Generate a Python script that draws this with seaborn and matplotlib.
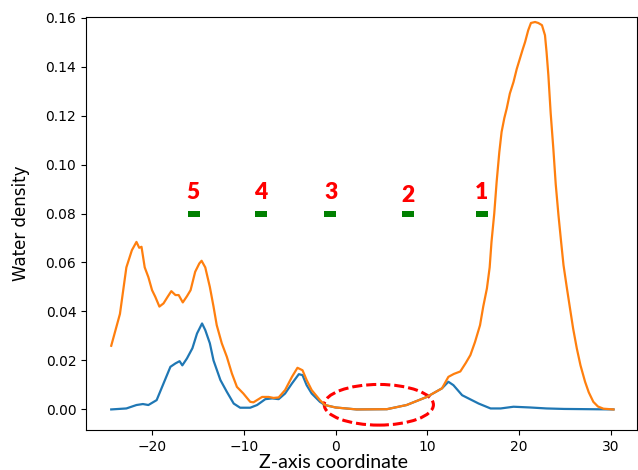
import matplotlib
matplotlib.use("Agg")
import matplotlib.pyplot as plt
from matplotlib.patches import Ellipse
import seaborn as sns

# Orange curve (total water density)
z_orange = [-24.45, -23.5, -22.8, -22.2, -21.7, -21.4, -21.15, -20.8, -20.4, -20.0,
            -19.65, -19.2, -18.75, -18.3, -17.9, -17.45, -17.1, -16.65, -16.2, -15.8,
            -15.3, -14.85, -14.6, -14.2, -13.7, -13.3, -12.95, -12.4, -11.85, -11.3,
            -10.75, -10.05, -9.3, -8.95, -8.0, -7.3, -6.75, -6.2, -5.5, -4.75,
            -4.15, -3.6, -3.15, -2.6, -1.7, -1.15, 0.0, 2.3, 5.6, 7.75,
            9.95, 11.6, 12.3, 12.9, 13.6, 14.2, 14.7, 15.2, 15.75, 16.1,
            16.5, 16.8, 17.0, 17.3, 17.56, 17.85, 18.1, 18.4, 18.66, 19.0,
            19.4, 19.75, 20.1, 20.4, 20.66, 21.0, 21.3, 21.75, 22.1, 22.5,
            22.83, 23.0, 23.2, 23.45, 23.74, 24.0, 24.3, 24.6, 24.85, 25.2,
            25.56, 25.9, 26.3, 26.7, 27.2, 27.6, 28.1, 28.6, 29.2, 30.3]
rho_orange = [0.026, 0.039, 0.058, 0.065, 0.0684, 0.066, 0.0664, 0.058, 0.054, 0.0487,
              0.046, 0.042, 0.0433, 0.046, 0.0483, 0.0467, 0.0467, 0.0437, 0.0462, 0.0487,
              0.0562, 0.0596, 0.0607, 0.058, 0.050, 0.042, 0.0344, 0.027, 0.0215, 0.0147,
              0.0092, 0.0065, 0.0031, 0.0029, 0.0051, 0.0051, 0.0047, 0.0049, 0.0079, 0.0133,
              0.017, 0.016, 0.012, 0.0079, 0.0038, 0.0018, 0.0008, 0.0, 0.0001, 0.0018,
              0.0051, 0.0086, 0.0133, 0.0145, 0.0155, 0.019, 0.0222, 0.0275, 0.0344, 0.042,
              0.0494, 0.058, 0.0684, 0.080, 0.0929, 0.105, 0.1133, 0.119, 0.1229, 0.129,
              0.1337, 0.139, 0.1433, 0.147, 0.150, 0.1548, 0.1578, 0.1582, 0.1578, 0.1569,
              0.1528, 0.146, 0.1364, 0.121, 0.1065, 0.092, 0.0793, 0.068, 0.0589, 0.050,
              0.0412, 0.033, 0.0249, 0.018, 0.0113, 0.007, 0.0031, 0.0012, 0.0003, 0.0]

# Blue curve
z_blue = [-24.45, -22.8, -21.7, -21.0, -20.4, -19.5, -18.75, -18.0, -17.45, -17.0,
          -16.7, -16.2, -15.6, -15.1, -14.55, -14.2, -13.7, -13.3, -12.55, -11.85,
          -11.1, -10.4, -9.3, -8.55, -7.65, -6.9, -6.2, -5.5, -4.75, -4.0,
          -3.6, -3.15, -2.6, -1.7, -1.15, 0.0, 2.3, 5.6, 7.75, 9.95,
          11.6, 12.3, 12.85, 13.8, 14.7, 15.6, 16.9, 18.0, 19.4, 21.2,
          23.0, 24.9, 30.3]
rho_blue = [0.0, 0.0004, 0.0018, 0.0022, 0.0018, 0.0038, 0.0106, 0.0174, 0.0188, 0.0197,
            0.018, 0.0208, 0.025, 0.031, 0.0351, 0.0324, 0.027, 0.020, 0.012, 0.0072,
            0.0024, 0.0007, 0.0007, 0.0018, 0.0042, 0.0045, 0.0042, 0.0065, 0.0106, 0.0144,
            0.014, 0.0099, 0.0065, 0.0031, 0.0018, 0.0008, 0.0, 0.0001, 0.0018, 0.0051,
            0.0086, 0.0113, 0.0099, 0.0058, 0.0041, 0.0024, 0.0004, 0.0004, 0.0011, 0.0008,
            0.0004, 0.0002, 0.0]

# Numbered sites
site_labels = ["5", "4", "3", "2", "1"]
site_z = [-15.45, -8.1, -0.55, 7.9, 16.0]
site_rho = [0.08, 0.08, 0.08, 0.08, 0.08]
label_z = [-15.5, -8.2, -0.5, 7.85, 15.9]
label_rho = [0.0861, 0.0861, 0.0861, 0.0847, 0.0861]

fig = plt.figure(figsize=(6.38, 4.70), dpi=100)
ax = fig.add_axes([0.1348, 0.0851, 0.8632, 0.878])

sns.lineplot(x=z_blue, y=rho_blue, ax=ax, color="C0", estimator=None, linewidth=1.6)
sns.lineplot(x=z_orange, y=rho_orange, ax=ax, color="C1", estimator=None, linewidth=1.6)

rect = [(-0.8, -0.5), (0.8, -0.5), (0.8, 0.5), (-0.8, 0.5)]
ax.plot(site_z, site_rho, ls="none", marker=rect, markersize=8,
        color="green", markeredgewidth=0)
for lab, zx, ry in zip(site_labels, label_z, label_rho):
    ax.text(zx, ry, lab, color="red", fontsize=16.5, fontweight="heavy",
            family="Lato", ha="center", va="baseline")

ax.add_patch(Ellipse((4.72, 0.0019), 11.9, 0.0166, fill=False, ec="red",
                     lw=2.2, ls=(0, (3.3, 1.3))))

ax.set_xlim(-27.2, 32.83)
ax.set_ylim(-0.0084, 0.1601)
ax.set_xticks([-20, -10, 0, 10, 20, 30])
ax.set_yticks([0.0, 0.02, 0.04, 0.06, 0.08, 0.10, 0.12, 0.14, 0.16])
ax.tick_params(labelsize=10)
ax.set_xlabel("Z-axis coordinate", fontsize=14, family="Lato")
ax.set_ylabel("Water density", fontsize=12)
ax.xaxis.set_label_coords(0.45, -0.058)
ax.yaxis.set_label_coords(-0.102, 0.5)

fig.savefig("out.png", dpi=100)
